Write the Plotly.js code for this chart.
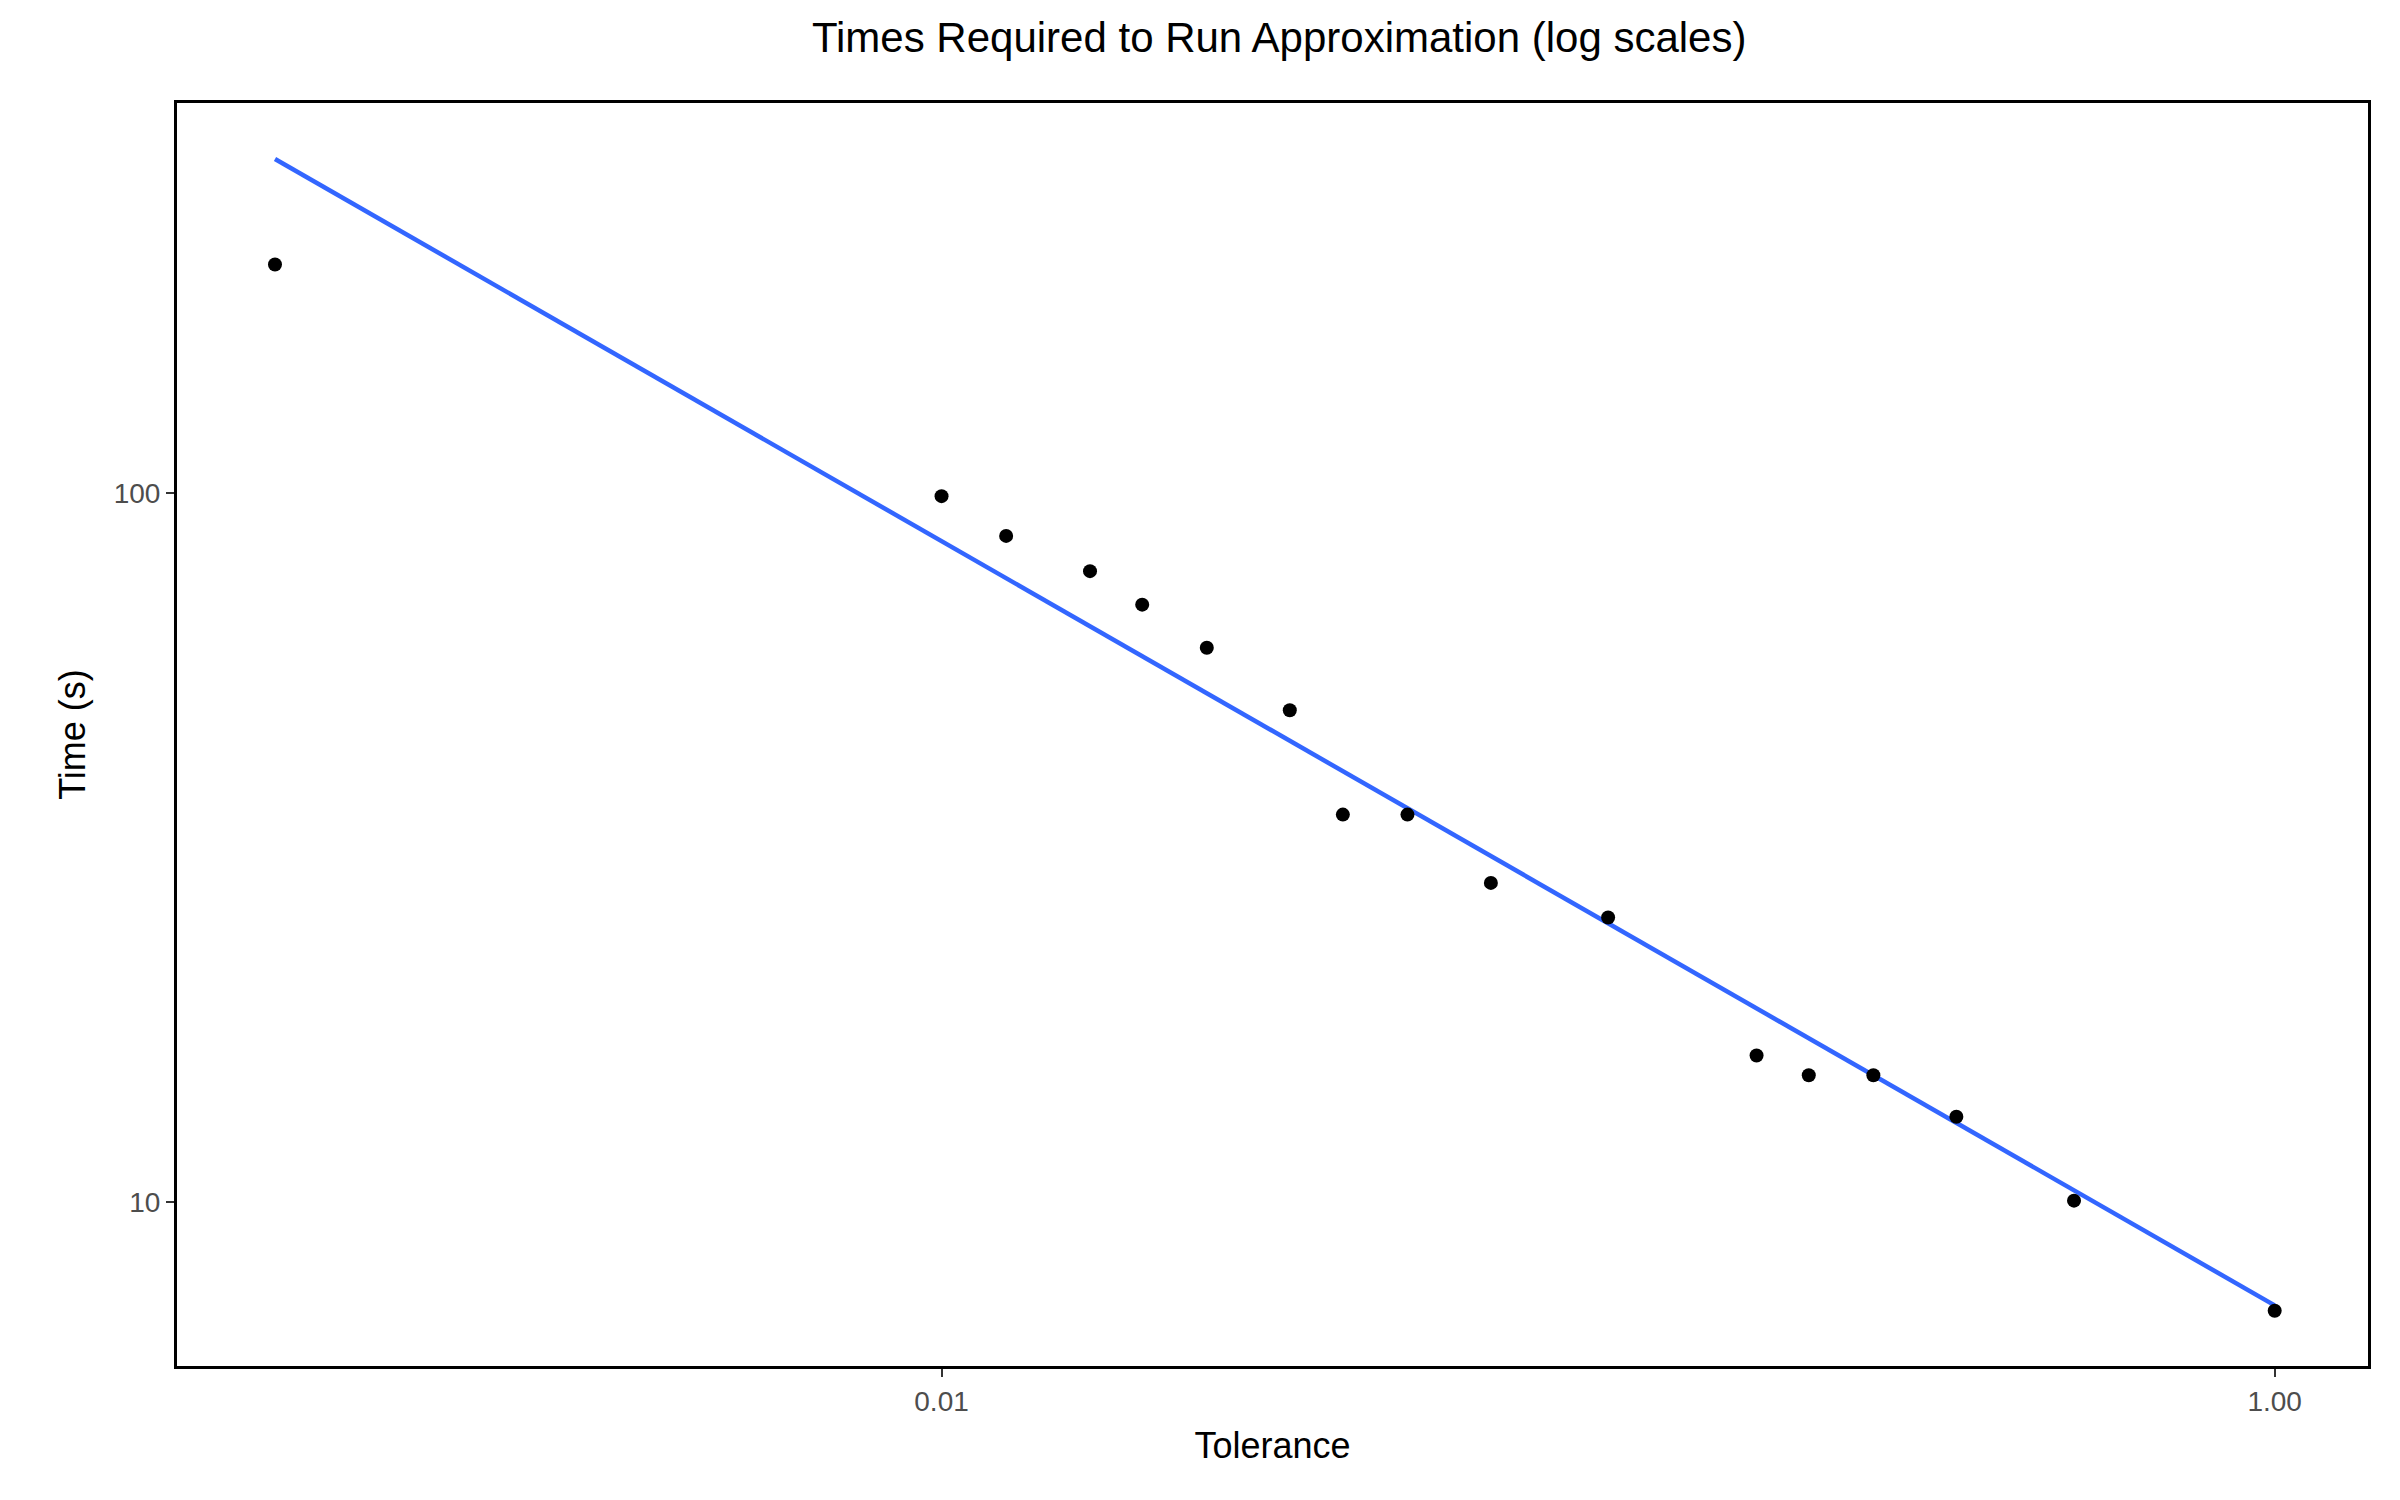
<!DOCTYPE html>
<html>
<head>
<meta charset="utf-8">
<script src="https://cdn.plot.ly/plotly-3.0.1.min.js"></script>
<style>body{margin:0;background:#fff}#chart{width:2400px;height:1500px}</style>
</head>
<body>
<div id="chart"></div>
<script>
var tolerance = [0.001, 0.01, 0.0125, 0.0167, 0.02, 0.025, 0.0333, 0.04, 0.05, 0.0667, 0.1, 0.167, 0.2, 0.25, 0.333, 0.5, 1];
var times = [210, 99, 87, 77.6, 69.6, 60.5, 49.4, 35.2, 35.2, 28.2, 25.2, 16.1, 15.1, 15.1, 13.2, 10.05, 7.03];

// least squares fit in log-log space
var lx = tolerance.map(Math.log10), ly = times.map(Math.log10);
var n = lx.length, mx = 0, my = 0;
for (var i = 0; i < n; i++) { mx += lx[i] / n; my += ly[i] / n; }
var sxy = 0, sxx = 0;
for (var i = 0; i < n; i++) { sxy += (lx[i] - mx) * (ly[i] - my); sxx += (lx[i] - mx) * (lx[i] - mx); }
var slope = sxy / sxx, icpt = my - slope * mx;
var fitX = [], fitY = [];
for (var k = 0; k <= 60; k++) {
  var v = lx[0] + (lx[n - 1] - lx[0]) * k / 60;
  fitX.push(Math.pow(10, v));
  fitY.push(Math.pow(10, icpt + slope * v));
}

var points = {
  x: tolerance, y: times, type: 'scatter', mode: 'markers',
  marker: {color: '#000', size: 14}, showlegend: false
};
var fit = {
  x: fitX, y: fitY, type: 'scatter', mode: 'lines',
  line: {color: '#3366FF', width: 4.5}, showlegend: false
};

var axisCommon = {
  type: 'log', showgrid: false, zeroline: false, showline: true, mirror: true,
  linecolor: '#000', linewidth: 3, ticks: 'outside', ticklen: 8, tickwidth: 2,
  tickcolor: '#333', tickfont: {size: 28, color: '#4d4d4d', family: 'Liberation Sans, Arial'}
};
var layout = {
  width: 2400, height: 1500,
  margin: {l: 177, r: 32, t: 103, b: 134},
  paper_bgcolor: '#fff', plot_bgcolor: '#fff',
  font: {family: 'Liberation Sans, Arial', color: '#000'},
  title: {text: 'Times Required to Run Approximation (log scales)', font: {size: 42}, x: 0.533, y: 0.985, yanchor: 'top'},
  xaxis: Object.assign({}, axisCommon, {
    range: [-3.147, 0.14], tickvals: [0.01, 1], ticktext: ['0.01', '1.00'],
    title: {text: 'Tolerance', font: {size: 36}, standoff: 18}
  }),
  yaxis: Object.assign({}, axisCommon, {
    range: [0.769, 2.55], tickvals: [10, 100], ticktext: ['10', '100'],
    title: {text: 'Time (s)', font: {size: 36}, standoff: 18}
  })
};
Plotly.newPlot('chart', [fit, points], layout, {displayModeBar: false});
</script>
</body>
</html>
